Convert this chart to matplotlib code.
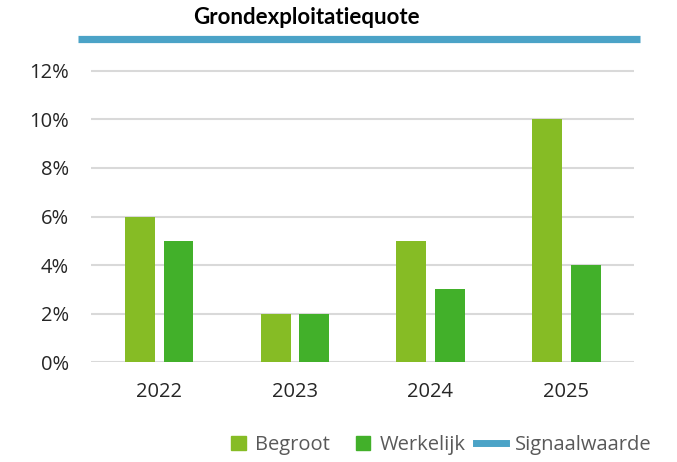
import matplotlib
matplotlib.use("Agg")
import matplotlib.pyplot as plt
from matplotlib.patches import Patch, Rectangle
from matplotlib.lines import Line2D
from matplotlib.legend_handler import HandlerPatch
import numpy as np

years = ["2022", "2023", "2024", "2025"]
begroot = [6, 2, 5, 10]
werkelijk = [5, 2, 3, 4]
signaalwaarde = 13.3
yticks = [0, 2, 4, 6, 8, 10, 12]
ytick_labels = ["0%", "2%", "4%", "6%", "8%", "10%", "12%"]

c_beg = "#86BC25"
c_wer = "#42B02A"
c_sig = "#4BA3C7"

plt.rcParams['font.family'] = ['Open Sans', 'DejaVu Sans']

fig = plt.figure(figsize=(6.77, 4.62), dpi=100)
ax = fig.add_axes([91/677, (462-362.3)/462, (634-91)/677, (362.3-36.7)/462])

x = np.arange(len(years))
w = 0.22
ax.bar(x - 0.14, begroot, width=w, color=c_beg, zorder=3)
ax.bar(x + 0.145, werkelijk, width=w, color=c_wer, zorder=3)

ax.axhline(signaalwaarde, xmin=-0.024, xmax=1.011, color=c_sig, lw=5.2,
           clip_on=False, zorder=4, solid_capstyle='butt')

ax.set_xlim(-0.5, 3.5)
ax.set_ylim(0, 13.4)
ax.set_yticks(yticks)
ax.set_yticklabels(ytick_labels)
ax.set_xticks(x)
ax.set_xticklabels(years)
ax.grid(axis='y', color='#D9D9D9', lw=1.5, zorder=0)
for s in ax.spines.values():
    s.set_visible(False)
ax.tick_params(axis='both', length=0, labelsize=14.5, colors='#262626')
ax.tick_params(axis='y', pad=16)
ax.tick_params(axis='x', pad=14)

fig.text(306/677, 1 - 18/462, "Grondexploitatiequote", ha='center', va='center',
         fontsize=16, fontweight='bold', family=['Lato', 'DejaVu Sans'], color='black')


def square(legend, orig_handle, xdescent, ydescent, width, height, fontsize):
    s = 10.5
    return Rectangle((-xdescent + width - s, -ydescent + (height - s) / 2), s, s)


handles = [Patch(color=c_beg), Patch(color=c_wer),
           Line2D([0], [0], color=c_sig, lw=5)]
labels = ["Begroot", "Werkelijk", "Signaalwaarde"]
leg = fig.legend(handles, labels, loc='center', bbox_to_anchor=(434/677, 1 - 445/462),
                 ncol=3, frameon=False, fontsize=14.5, handlelength=1.45, handleheight=0.7,
                 columnspacing=0.55, handletextpad=0.45,
                 handler_map={Patch: HandlerPatch(patch_func=square)})
for t in leg.get_texts():
    t.set_color('#595959')
leg.legend_handles[2].set_linewidth(5)

fig.savefig("out.png", dpi=100)
